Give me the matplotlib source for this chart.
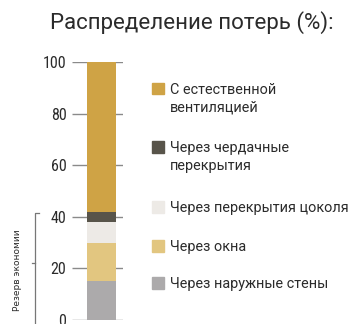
import matplotlib.pyplot as plt
from matplotlib.patches import Rectangle

# loss shares, stacked from the bottom up
categories = ['Через наружные стены', 'Через окна', 'Через перекрытия цоколя',
              'Через чердачные\nперекрытия', 'С естественной\nвентиляцией']
shares = [15, 15, 8, 4, 58]
colors = ['#acaaab', '#e2c680', '#edeae6', '#58544a', '#cfa345']
yticks = [0, 20, 40, 60, 80, 100]
reserve_top = 41.5
title = 'Распределение потерь (%):'
reserve_label = 'Резерв экономии'

W, H = 352, 324
regular = ['Roboto', 'DejaVu Sans']
narrow = ['Roboto Condensed', 'PT Sans Narrow', 'DejaVu Sans']
text_color = '#2b2b2b'

fig = plt.figure(figsize=(W / 100, H / 100), dpi=100)

def px(x0, y0, x1, y1):
    # pixel box (top-left origin) -> figure fraction rect
    return [x0 / W, 1 - y1 / H, (x1 - x0) / W, (y1 - y0) / H]

ax = fig.add_axes(px(72, 62, 123, 320))
ax.set_xlim(0, 51)
ax.set_ylim(0, 100)
for s in ax.spines.values():
    s.set_visible(False)
ax.set_xticks([])
ax.set_yticks(yticks)
ax.set_yticklabels([str(t) for t in yticks], family=narrow, fontsize=11.5,
                   color=text_color)
ax.tick_params(axis='y', length=0, pad=4)
ax.hlines(yticks, 0, 51, color='#8a8a8a', lw=1, zorder=1)

bottom = 0
for val, col in zip(shares, colors):
    ax.bar(29.6, val, width=28.7, bottom=bottom, color=col, zorder=2)
    bottom += val

# bracket for the savings reserve
bx = -36.5
mid = reserve_top * 0.53
ax.plot([bx + 4, bx, bx], [reserve_top, reserve_top, -2], color='#777777',
        lw=0.9, clip_on=False)
ax.plot([bx, bx - 3], [mid, mid], color='#777777', lw=0.9, clip_on=False)
ax.text(bx - 17.5, mid - 2.5, reserve_label, rotation=90,
        ha='center', va='center', fontsize=6.5, family=['DejaVu Sans'],
        color=text_color)

fig.text(50 / W, 1 - 28.5 / H, title, fontsize=16, family=regular,
         color=text_color, va='baseline', ha='left')

# legend, top entry first; y is the cap centre of the first line
label_y = [88.5, 147, 207, 246, 283]
line_gap = 17.5
for lab, col, y in zip(categories[::-1], colors[::-1], label_y):
    fig.patches.append(Rectangle((152 / W, 1 - (y + 5.8) / H), 11.5 / W, 11.5 / H,
                                 transform=fig.transFigure, color=col))
    for i, line in enumerate(lab.split('\n')):
        fig.text(170 / W, 1 - (y + 5.2 + i * line_gap) / H, line, fontsize=10.4,
                 family=regular, color=text_color, va='baseline', ha='left')

fig.savefig('out.png', dpi=100)
